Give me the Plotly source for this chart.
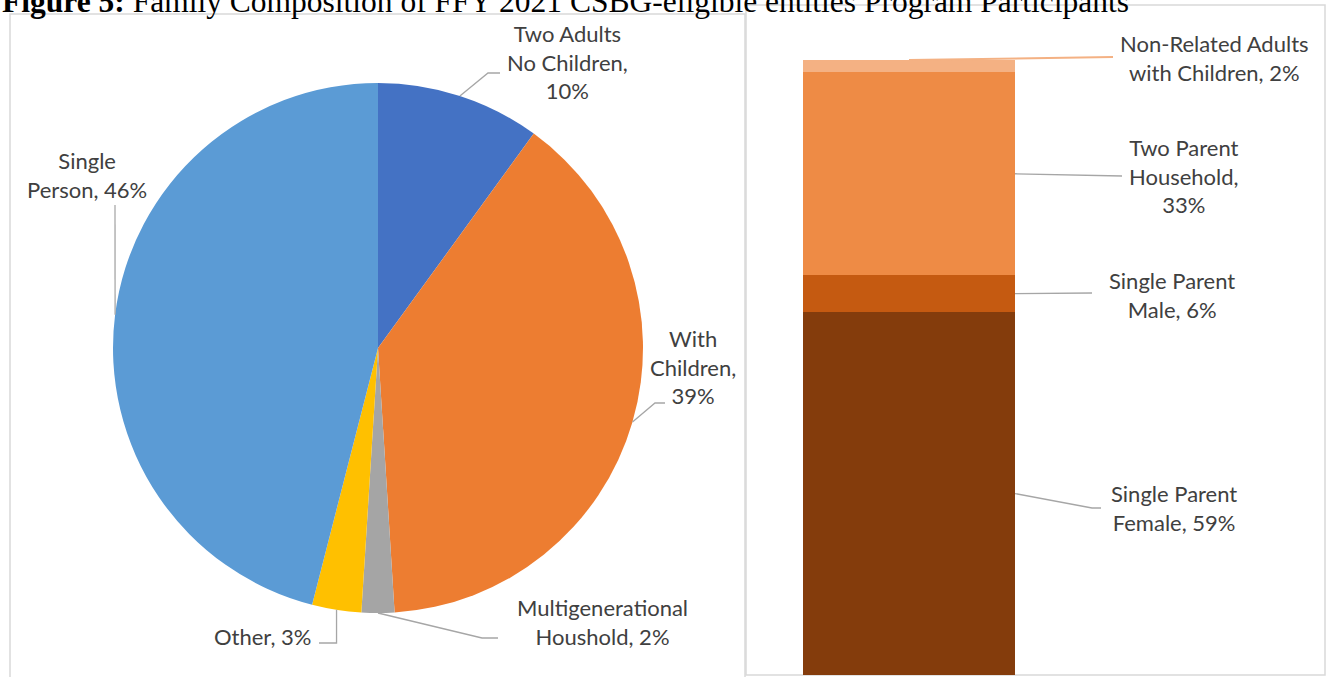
import math
import plotly.graph_objects as go

W, H = 1327, 677

# ---------------- data ----------------
pie_labels = ["Two Adults No Children", "With Children", "Multigenerational Houshold", "Other", "Single Person"]
pie_values = [10, 39, 2, 3, 46]
pie_colors = ["#4472C4", "#ED7D31", "#A5A5A5", "#FFC000", "#5B9BD5"]
pie_text = ["Two Adults<br>No Children,<br>10%", "With<br>Children,<br>39%",
            "Multigenerational<br>Houshold, 2%", "Other, 3%", "Single<br>Person, 46%"]

bar_labels = ["Single Parent Female", "Single Parent Male", "Two Parent Household", "Non-Related Adults with Children"]
bar_values = [59, 6, 33, 2]
bar_colors = ["#843C0C", "#C55A11", "#EE8B45", "#F4B183"]
bar_text = ["Single Parent<br>Female, 59%", "Single Parent<br>Male, 6%",
            "Two Parent<br>Household,<br>33%", "Non-Related Adults<br>with Children, 2%"]

title_html = "<b>Figure 5:</b> Family Composition of FFY 2021 CSBG-eligible entities Program Participants"

# ---------------- helpers ----------------
def px(x):
    return x / W

def py(y):
    return 1 - y / H

LABEL_FONT = dict(family="Lato, Carlito, Calibri, sans-serif", size=22, color="#404040")
LEADER = dict(color="#A6A6A6", width=1.3)

fig = go.Figure()

# pie geometry (pixels)
cx, cy, R = 378, 348, 265
fig.add_trace(go.Pie(
    labels=pie_labels, values=pie_values, sort=False, direction="clockwise", rotation=0,
    marker=dict(colors=pie_colors, line=dict(width=0)), textinfo="none", hoverinfo="label+percent",
    domain=dict(x=[px(cx - R), px(cx + R)], y=[py(cy + R), py(cy - R)]), showlegend=False,
))

# bar geometry
bar_left, bar_right, bar_top, bar_bottom = 803, 1015, 60, 675
for lab, val, col in zip(bar_labels, bar_values, bar_colors):
    fig.add_trace(go.Bar(x=[0], y=[val], name=lab, marker=dict(color=col, line=dict(width=0)),
                         width=1, showlegend=False, xaxis="x", yaxis="y"))

fig.update_layout(
    width=W, height=H, margin=dict(l=0, r=0, t=0, b=0),
    paper_bgcolor="white", plot_bgcolor="rgba(0,0,0,0)", barmode="stack",
    xaxis=dict(domain=[px(bar_left), px(bar_right)], range=[-0.5, 0.5], visible=False, fixedrange=True),
    yaxis=dict(domain=[py(bar_bottom), py(bar_top)], range=[0, sum(bar_values)], visible=False, fixedrange=True),
)

shapes = []
# panel borders
shapes.append(dict(type="rect", xref="paper", yref="paper", x0=px(10), x1=px(745), y0=py(700), y1=py(14),
                   line=dict(color="#D9D9D9", width=1.5), layer="below"))
shapes.append(dict(type="rect", xref="paper", yref="paper", x0=px(746), x1=px(1325), y0=py(675), y1=py(5),
                   line=dict(color="#D9D9D9", width=1.5), layer="below"))

# pie leader lines: start at the middle of each slice on the rim
total = sum(pie_values)
cum = 0
mids = []
for v in pie_values:
    mids.append((cum + v / 2) / total * 2 * math.pi)
    cum += v

def rim(a):
    return cx + R * math.sin(a), cy - R * math.cos(a)

pie_elbows = [
    [(488, 73), (500, 73)],
    [(655, 403), (665, 403)],
    [(482, 638), (498, 638)],
    None,
    [(115, 205)],
]
pie_label_pos = [(567, 62, "center"), (693, 367, "center"), (602, 622, "center"), (313, 636, "right"), (87, 175, "center")]

for i, a in enumerate(mids):
    sx, sy = rim(a)
    if pie_elbows[i] is None:
        pts = [(sx, sy), (sx, 643), (319, 643)]
    else:
        pts = [(sx, sy)] + pie_elbows[i]
    path = "M " + " L ".join(f"{px(x):.5f},{py(y):.5f}" for x, y in pts)
    shapes.append(dict(type="path", xref="paper", yref="paper", path=path, line=LEADER))

annotations = []
for (x, y, al), t in zip(pie_label_pos, pie_text):
    annotations.append(dict(x=px(x), y=py(y), xref="paper", yref="paper", text=t, showarrow=False,
                            xanchor=("right" if al == "right" else "center"), yanchor="middle",
                            align=al, font=LABEL_FONT))

# bar leader lines
cum = 0
bar_label_pos = [(1174, 508), (1172, 295), (1184, 176), (1214, 58)]
bar_line_end = [[(1092, 508), (1101, 508)], [(1092, 293)], [(1122, 176)], [(1113, 57)]]
for i, v in enumerate(bar_values):
    mid = cum + v / 2
    cum += v
    if i == len(bar_values) - 1:
        start_x = (bar_left + bar_right) / 2
        start_y_data = cum
    else:
        start_x = bar_right
        start_y_data = mid
    sy = bar_bottom - (start_y_data / sum(bar_values)) * (bar_bottom - bar_top)
    pts = [(start_x, sy)] + bar_line_end[i]
    path = "M " + " L ".join(f"{px(x):.5f},{py(y):.5f}" for x, y in pts)
    shapes.append(dict(type="path", xref="paper", yref="paper", path=path,
                       line=dict(color="#F4B183" if i == 3 else "#A6A6A6", width=1.3 if i < 3 else 2)))
    lx, ly = bar_label_pos[i]
    annotations.append(dict(x=px(lx), y=py(ly), xref="paper", yref="paper", text=bar_text[i], showarrow=False,
                            xanchor="center", yanchor="middle", align="center", font=LABEL_FONT))

# title (partly cut at top, as in the reference)
annotations.append(dict(x=0, y=py(21), xref="paper", yref="paper", text=title_html, showarrow=False,
                        xanchor="left", yanchor="bottom", align="left",
                        font=dict(family="Liberation Serif, Times New Roman, serif", size=31.5, color="black")))

fig.update_layout(shapes=shapes, annotations=annotations)
fig.write_html("out.html", config={"displayModeBar": False},
               post_script="document.body.style.margin='0px';document.body.style.overflow='hidden';")
